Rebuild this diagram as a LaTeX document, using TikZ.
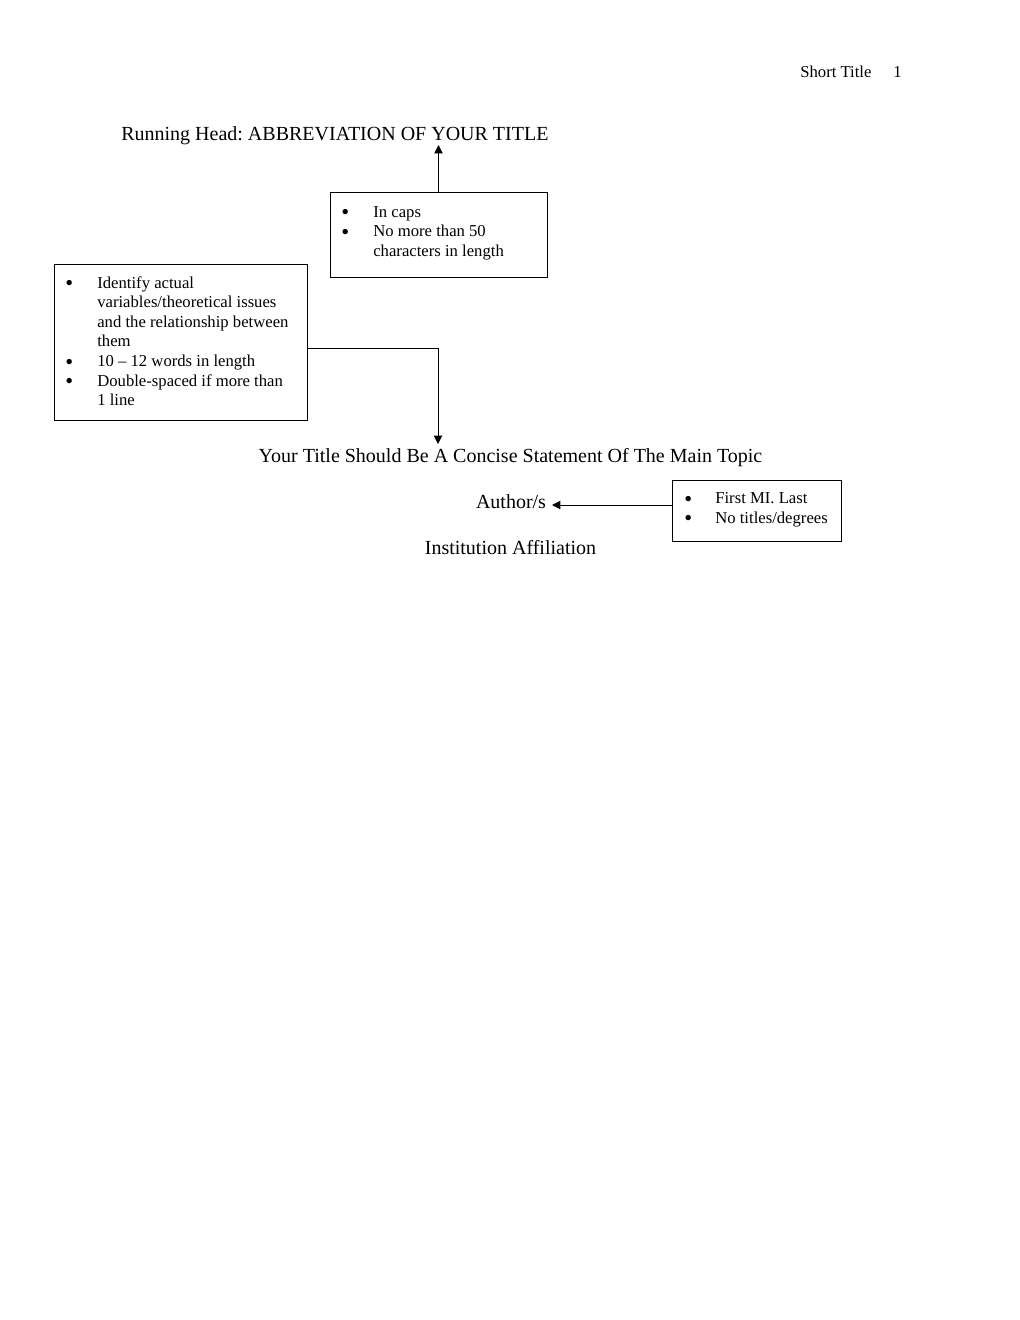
\documentclass[tikz,border=0pt]{standalone}
\usepackage{fontspec}
\usepackage{graphicx}
\setmainfont{Liberation Serif}
\usetikzlibrary{arrows.meta,fit}
\frenchspacing
\newcommand{\bul}{\smash{\raisebox{-1.65pt}{\scalebox{1.35}{•}}}}
\begin{document}
\begin{tikzpicture}[x=0.6pt,y=-0.6pt,
  txt/.style={inner sep=0pt, font=\fontsize{12pt}{14pt}\selectfont},
  hdr/.style={inner sep=0pt, font=\fontsize{10pt}{12pt}\selectfont},
  small/.style={inner sep=0pt, anchor=base west, font=\fontsize{10pt}{11.76pt}\selectfont},
  box/.style={draw, line width=0.6pt, inner sep=0pt},
  arr/.style={line width=0.6pt, -{Triangle[length=5pt,width=5pt]}}]
\fill[white] (0,0) rectangle (1020,1320);
\useasboundingbox (0,0) rectangle (1020,1320);

% header
\node[hdr, anchor=base west] (short) at (800,77) {Short Title};
\node[hdr, anchor=base west] (pnum) at (893,77) {1};

% main texts
\node[txt, anchor=base west] (rh) at (121,140) {Running Head: ABBREVIATION OF YOUR TITLE};
\node[txt, anchor=base] (title) at (510.5,462) {Your Title Should Be A Concise Statement Of The Main Topic};
\node[txt, anchor=base] (author) at (511,508) {Author/s};
\node[txt, anchor=base] (inst) at (510.5,554) {Institution Affiliation};

% boxes
\node[box, fit={(330,192) (547,277)}] (capsbox) {};
\node[small] (capstext) at (341,217) {\begin{tabular}[t]{@{}p{19.2pt}@{}l@{}}
\bul & In caps\\
\bul & No more than 50\\
  & characters in length
\end{tabular}};

\node[box, fit={(54,264) (307,420)}] (leftbox) {};
\node[small] (lefttext) at (65,288) {\begin{tabular}[t]{@{}p{19.2pt}@{}l@{}}
\bul & Identify actual\\
  & variables/theoretical issues\\
  & and the relationship between\\
  & them\\
\bul & 10 -- 12 words in length\\
\bul & Double-spaced if more than\\
  & 1 line
\end{tabular}};

\node[box, fit={(672,480) (841,541)}] (authbox) {};
\node[small] (authtext) at (684,503.5) {\begin{tabular}[t]{@{}p{18.6pt}@{}l@{}}
\bul & First MI. Last\\
\bul & No titles/degrees
\end{tabular}};

% connector end points
\coordinate (rhtip) at (438.5,145);
\coordinate (lbout) at (307,348);
\coordinate (titletip) at (438,444);
\coordinate (authtip) at (552,505);

% connectors
\draw[arr] (capsbox.north) -- (rhtip);
\draw[arr] (leftbox.east |- lbout) -| (titletip);
\draw[arr] (authbox.west |- authtip) -- (authtip);
\end{tikzpicture}
\end{document}
